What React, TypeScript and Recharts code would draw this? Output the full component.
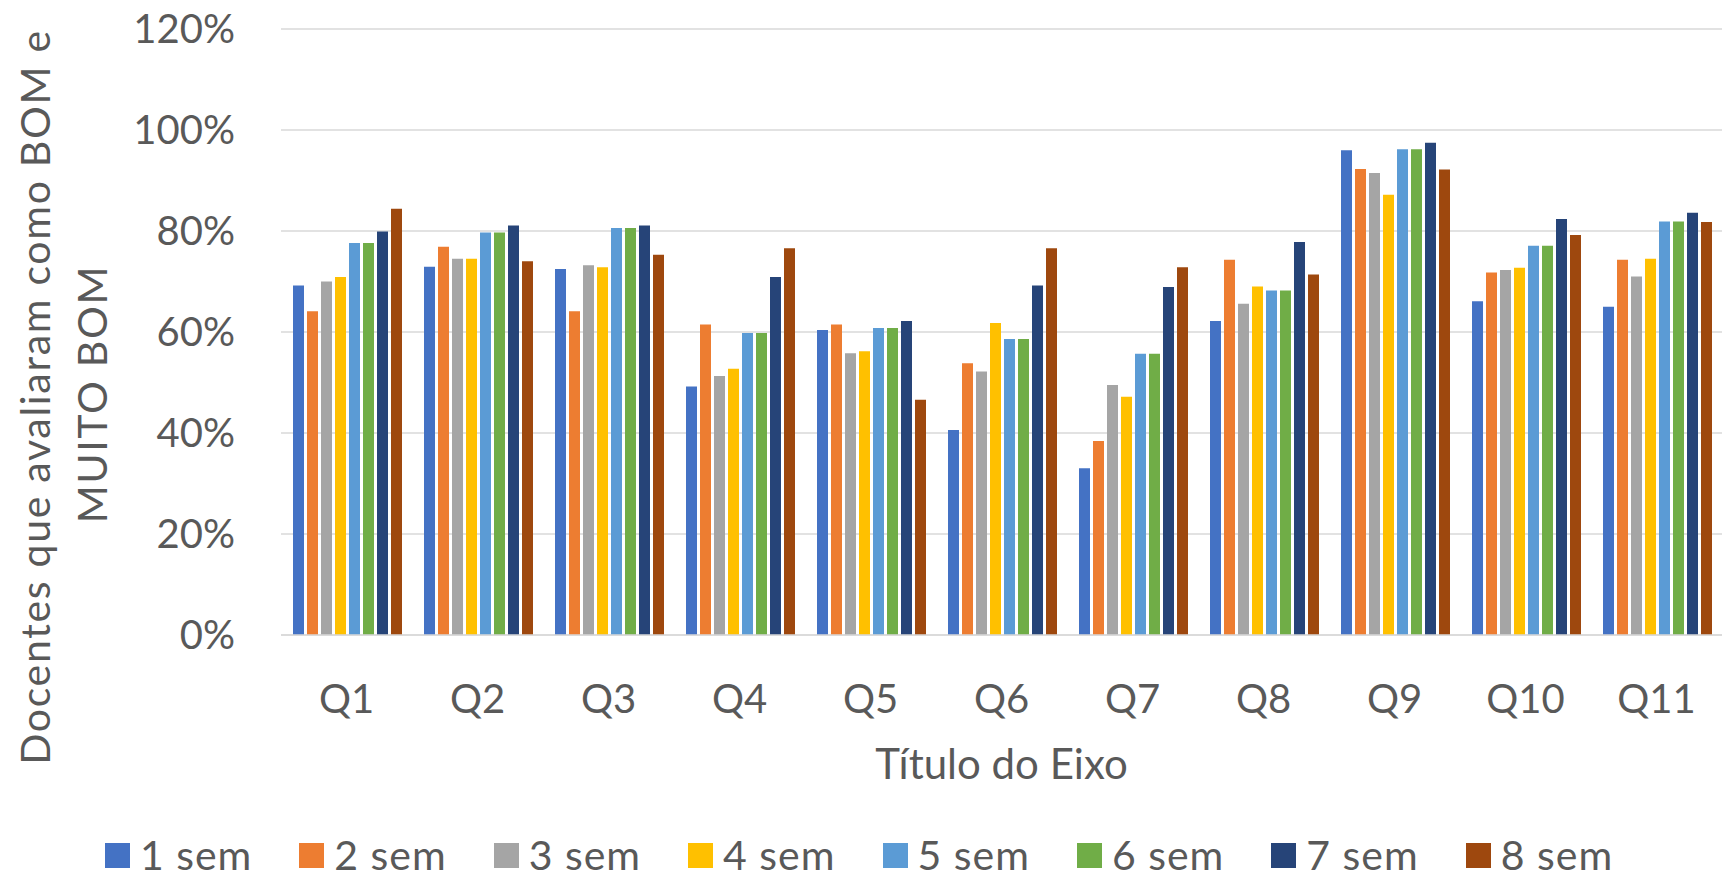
import React from 'react';
import { BarChart, Bar, XAxis, YAxis, CartesianGrid, Legend } from 'recharts';

const categories = ['Q1', 'Q2', 'Q3', 'Q4', 'Q5', 'Q6', 'Q7', 'Q8', 'Q9', 'Q10', 'Q11'];

const sem1 = [0.692, 0.729, 0.725, 0.492, 0.604, 0.406, 0.33, 0.622, 0.96, 0.661, 0.65];
const sem2 = [0.641, 0.769, 0.641, 0.615, 0.615, 0.538, 0.384, 0.743, 0.923, 0.718, 0.743];
const sem3 = [0.7, 0.745, 0.732, 0.513, 0.558, 0.522, 0.495, 0.656, 0.915, 0.723, 0.71];
const sem4 = [0.709, 0.745, 0.728, 0.527, 0.562, 0.618, 0.472, 0.69, 0.872, 0.727, 0.745];
const sem5 = [0.776, 0.797, 0.806, 0.598, 0.608, 0.586, 0.557, 0.682, 0.962, 0.771, 0.819];
const sem6 = [0.776, 0.797, 0.806, 0.598, 0.608, 0.586, 0.557, 0.682, 0.962, 0.771, 0.819];
const sem7 = [0.799, 0.811, 0.811, 0.709, 0.622, 0.692, 0.689, 0.778, 0.975, 0.824, 0.836];
const sem8 = [0.844, 0.74, 0.753, 0.766, 0.466, 0.766, 0.728, 0.714, 0.922, 0.792, 0.818];

const seriesNames = ['1 sem', '2 sem', '3 sem', '4 sem', '5 sem', '6 sem', '7 sem', '8 sem'];
const seriesValues = [sem1, sem2, sem3, sem4, sem5, sem6, sem7, sem8];
const seriesColors = ['#4472C4', '#ED7D31', '#A5A5A5', '#FFC000', '#5B9BD5', '#70AD47', '#264478', '#9E480E'];

const yTicks = [0, 0.2, 0.4, 0.6, 0.8, 1.0, 1.2];

const data = categories.map((name, i) => {
  const row: Record<string, string | number> = { name };
  seriesNames.forEach((s, j) => {
    row[s] = seriesValues[j][i];
  });
  return row;
});

const FONT = 'Lato, "Open Sans", sans-serif';
const TEXT = '#595959';

function YTitle() {
  return (
    <g fill={TEXT} fontFamily={FONT} fontSize={41} letterSpacing={1.7}>
      <text x={50} y={397} textAnchor="middle" transform="rotate(-90, 50, 397)">
        Docentes que avaliaram como BOM e
      </text>
      <text x={107} y={394} textAnchor="middle" transform="rotate(-90, 107, 394)">
        MUITO BOM
      </text>
    </g>
  );
}

function XTitle(props: any) {
  const vb = props.viewBox || { x: 0, y: 0, width: 0 };
  return (
    <text
      x={vb.x + vb.width / 2}
      y={vb.y + 144}
      textAnchor="middle"
      fill={TEXT}
      fontFamily={FONT}
      fontSize={42}
    >
      Título do Eixo
    </text>
  );
}

function renderLegend() {
  return (
    <div
      style={{
        height: 40,
        display: 'flex',
        justifyContent: 'center',
        alignItems: 'center',
        fontFamily: FONT,
        fontSize: 41,
        letterSpacing: 1,
        color: TEXT,
        paddingRight: 4,
      }}
    >
      {seriesNames.map((s, i) => (
        <div key={s} style={{ display: 'flex', alignItems: 'center', marginRight: i < seriesNames.length - 1 ? 47 : 0 }}>
          <span style={{ width: 25, height: 25, background: seriesColors[i], marginRight: 10, display: 'inline-block' }} />
          <span style={{ lineHeight: '40px' }}>{s}</span>
        </div>
      ))}
    </div>
  );
}

export default function App() {
  return (
    <div style={{ position: 'absolute', left: 0, top: 0, background: '#fff' }}>
      <BarChart
        width={1723}
        height={879}
        data={data}
        margin={{ top: 29, right: 1, left: 0, bottom: 4 }}
        barCategoryGap={12}
        barGap={3}
      >
        <CartesianGrid vertical={false} stroke="#d9d9d9" strokeWidth={1.3} />
        <XAxis
          dataKey="name"
          height={200}
          axisLine={{ stroke: '#d9d9d9', strokeWidth: 1.3 }}
          tickLine={false}
          tickSize={0}
          tickMargin={50}
          tick={{ fill: TEXT, fontSize: 40, fontFamily: FONT }}
          interval={0}
          label={{ content: (p: any) => <XTitle {...p} /> }}
        />
        <YAxis
          width={281}
          domain={[0, 1.2]}
          ticks={yTicks}
          axisLine={false}
          tickLine={false}
          tickSize={0}
          tickMargin={46}
          tick={{ fill: TEXT, fontSize: 40, fontFamily: FONT }}
          tickFormatter={(v: number) => `${Math.round(v * 100)}%`}
          label={{ content: () => <YTitle /> }}
        />
        <Legend verticalAlign="bottom" content={renderLegend} />
        {seriesNames.map((s, i) => (
          <Bar key={s} dataKey={s} fill={seriesColors[i]} isAnimationActive={false} />
        ))}
      </BarChart>
    </div>
  );
}
